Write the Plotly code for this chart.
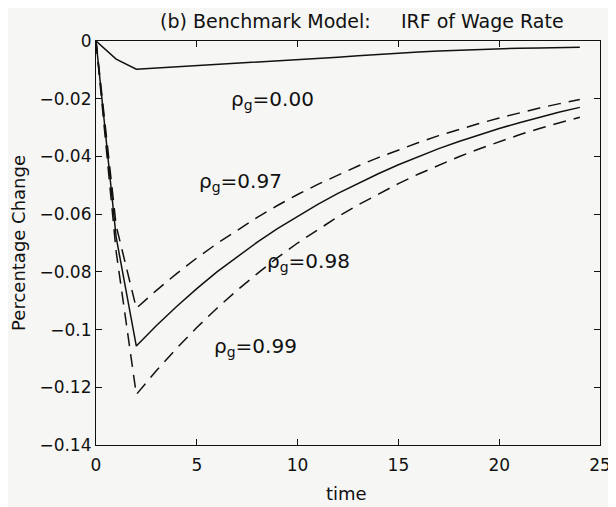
"""IRF of wage rate, benchmark model"""

import plotly.graph_objects as go

# data
time = list(range(25))

irf_rho000 = [0, -0.0063, -0.0098, -0.0094, -0.0090, -0.0086, -0.0082, -0.0078,
              -0.0074, -0.0070, -0.0066, -0.0061, -0.0056, -0.0051, -0.0046,
              -0.0041, -0.0038, -0.0035, -0.0032, -0.0029, -0.0026, -0.0025,
              -0.0024, -0.0023, -0.0022]

irf_rho097 = [0, -0.064, -0.0926, -0.0864, -0.0806, -0.0752, -0.0702, -0.0655,
              -0.0611, -0.0570, -0.0532, -0.0497, -0.0464, -0.0433, -0.0404,
              -0.0377, -0.0352, -0.0328, -0.0306, -0.0286, -0.0267, -0.0249,
              -0.0232, -0.0217, -0.0203]

irf_rho098 = [0, -0.068, -0.1057, -0.0986, -0.0920, -0.0858, -0.0800, -0.0747,
              -0.0697, -0.0650, -0.0607, -0.0566, -0.0528, -0.0493, -0.0460,
              -0.0429, -0.0400, -0.0373, -0.0348, -0.0325, -0.0303, -0.0283,
              -0.0264, -0.0246, -0.0230]

irf_rho099 = [0, -0.073, -0.1225, -0.1142, -0.1065, -0.0993, -0.0926, -0.0864,
              -0.0806, -0.0751, -0.0700, -0.0653, -0.0609, -0.0568, -0.0530,
              -0.0494, -0.0461, -0.0430, -0.0401, -0.0374, -0.0349, -0.0325,
              -0.0303, -0.0283, -0.0264]

x_ticks = [0, 5, 10, 15, 20, 25]
y_ticks = [0, -0.02, -0.04, -0.06, -0.08, -0.1, -0.12, -0.14]
y_ticktext = ['0', '\u22120.02', '\u22120.04', '\u22120.06', '\u22120.08',
              '\u22120.1', '\u22120.12', '\u22120.14']

labels = ['0.00', '0.97', '0.98', '0.99']
label_x = [6.6, 5.0, 8.4, 5.75]
label_y = [-0.0205, -0.049, -0.0765, -0.106]

FONT = 'DejaVu Sans, Liberation Sans, Arial, sans-serif'
BG = '#f6f6f4'
INK = '#111111'
DASH = '13px,8px'

fig = go.Figure()
series = [
    (irf_rho000, 'solid'),
    (irf_rho097, DASH),
    (irf_rho098, 'solid'),
    (irf_rho099, DASH),
]
for vals, dash in series:
    fig.add_trace(go.Scatter(x=time, y=vals, mode='lines',
                             line=dict(color=INK, width=1.5, dash=dash),
                             showlegend=False))

for lab, lx, ly in zip(labels, label_x, label_y):
    fig.add_annotation(x=lx, y=ly, xref='x', yref='y', xanchor='left',
                       yanchor='middle', showarrow=False,
                       text=f'\u03c1<sub>g</sub>=' + lab,
                       font=dict(family=FONT, size=20, color=INK))

# axis titles as annotations so the margins stay fixed
fig.add_annotation(x=-0.155, y=0.5, xref='paper', yref='paper',
                   xanchor='center', yanchor='middle', showarrow=False,
                   textangle=-90, text='Percentage Change',
                   font=dict(family=FONT, size=18, color=INK))
fig.add_annotation(x=0.498, y=-0.119, xref='paper', yref='paper',
                   xanchor='center', yanchor='middle', showarrow=False,
                   text='time', font=dict(family=FONT, size=18, color=INK))

axis_style = dict(showline=True, linecolor=INK, linewidth=1.2, mirror='ticks',
                  ticks='inside', ticklen=6, tickcolor=INK, tickwidth=1.2,
                  showgrid=False, zeroline=False, automargin=False,
                  tickfont=dict(family=FONT, size=17, color=INK))

fig.update_xaxes(range=[0, 25], tickvals=x_ticks, ticklabelstandoff=4,
                 **axis_style)
fig.update_yaxes(range=[-0.14, 0], tickvals=y_ticks, ticktext=y_ticktext,
                 **axis_style)

# page body adds an 8px offset, so the figure is 8px smaller than the window
fig.update_layout(
    width=608, height=499,
    margin=dict(l=88, r=16, t=33, b=62),
    paper_bgcolor=BG, plot_bgcolor=BG,
    title=dict(text='(b) Benchmark Model:     IRF of Wage Rate',
               font=dict(family=FONT, size=19, color=INK),
               x=0.582, xanchor='center', y=0.974, yanchor='middle'),
)

fig.write_html("out.html")
